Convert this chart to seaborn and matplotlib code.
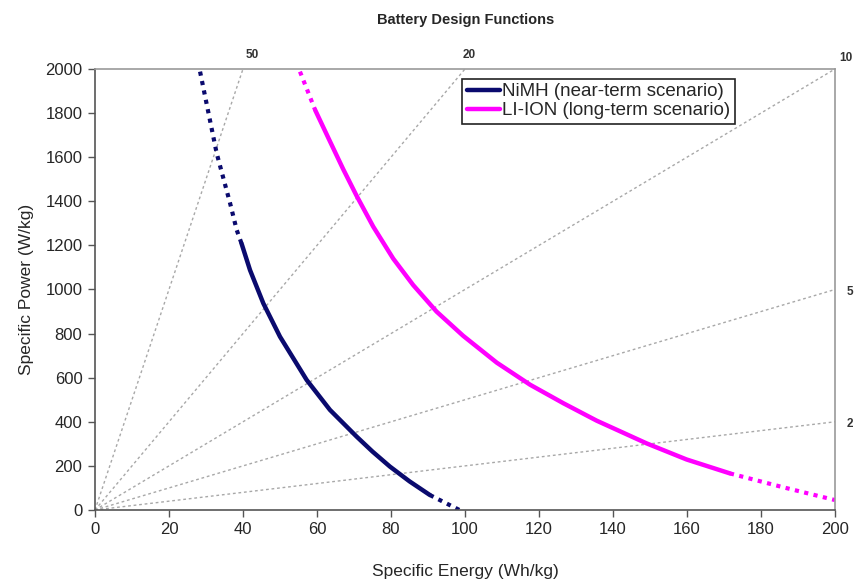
import matplotlib
matplotlib.use("Agg")
import matplotlib.pyplot as plt
import numpy as np
import pandas as pd
import seaborn as sns

# NiMH curve (near-term), solid part and dotted extensions
nimh_E = [39.6, 41.9, 45.5, 50.0, 57.2, 63.5, 70.7, 75.0, 79.7, 85.0, 90.5]
nimh_P = [1209, 1088, 937, 786, 590, 454, 333, 265, 197, 130, 68]
nimh_top_E = [28.4, 32.9, 36.5, 38.3, 39.6]
nimh_top_P = [1988, 1617, 1392, 1270, 1209]
nimh_bot_E = [90.5, 98.5]
nimh_bot_P = [68, 0]

# LI-ION curve (long-term)
li_E = [59.5, 63.5, 67.1, 70.7, 75.2, 80.6, 86.0, 92.3, 99.5, 108.6, 117.6,
        126.6, 135.6, 149.1, 159.9, 171.6]
li_P = [1814, 1672, 1545, 1425, 1285, 1140, 1020, 900, 790, 668, 568,
        484, 405, 302, 229, 166]
li_top_E = [55.4, 59.5]
li_top_P = [1988, 1814]
li_bot_E = [171.6, 186.0, 200.0]
li_bot_P = [166, 103, 45]

# power-to-energy ratio guide lines
ratios = [50, 20, 10, 5, 2]
ratio_label_pos = [(42.4, 2062), (101.0, 2062), (203.0, 2050), (204.0, 990), (204.0, 390)]

sns.set_theme(style="white")
plt.rcParams['font.family'] = ['Liberation Sans', 'DejaVu Sans']

fig = plt.figure(figsize=(8.58, 5.86), dpi=100)
ax = fig.add_axes([0.1107, 0.1297, 0.8625, 0.7526])

# guide rays P = r * E
for r in ratios:
    e_end = min(200, 2000 / r)
    ray = pd.DataFrame({"E": [0, e_end], "P": [0, r * e_end]})
    sns.lineplot(data=ray, x="E", y="P", ax=ax, color="#a8a8a8", lw=1.0,
                 linestyle=(0, (2, 2)), estimator=None, sort=False)
for r, (tx, ty) in zip(ratios, ratio_label_pos):
    ax.text(tx, ty, str(r), fontsize=8.5, fontweight="bold", color="#333333",
            ha="center", va="center", clip_on=False)

navy = "#0a0a6e"
magenta = "#ff00ff"

sns.lineplot(x=nimh_E, y=nimh_P, ax=ax, color=navy, lw=3.2, estimator=None,
             sort=False, label="NiMH (near-term scenario)")
sns.lineplot(x=li_E, y=li_P, ax=ax, color=magenta, lw=3.2, estimator=None,
             sort=False, label="LI-ION (long-term scenario)")
for xs, ys, c in [(nimh_top_E, nimh_top_P, navy), (nimh_bot_E, nimh_bot_P, navy),
                  (li_top_E, li_top_P, magenta), (li_bot_E, li_bot_P, magenta)]:
    sns.lineplot(x=xs, y=ys, ax=ax, color=c, lw=3.0, linestyle=(0, (1, 1.3)),
                 estimator=None, sort=False, legend=False)

ax.set_xlim(0, 200)
ax.set_ylim(0, 2000)
ax.set_xticks(np.arange(0, 201, 20))
ax.set_yticks(np.arange(0, 2001, 200))
ax.tick_params(axis="both", which="major", labelsize=12, direction="out",
               length=5, width=1, color="#555555", bottom=True, left=True, pad=4)
for s in ["left", "bottom"]:
    ax.spines[s].set_color("#555555")
    ax.spines[s].set_linewidth(1.2)
for s in ["right", "top"]:
    ax.spines[s].set_color("#999999")
    ax.spines[s].set_linewidth(1.2)

ax.set_xlabel("Specific Energy (Wh/kg)", fontsize=12.5, labelpad=19)
ax.set_ylabel("Specific Power (W/kg)", fontsize=12.5, labelpad=8)
fig.text(0.543, 0.966, "Battery Design Functions", fontsize=10.5, fontweight="bold",
         ha="center", va="center")

leg = ax.legend(loc="upper left", bbox_to_anchor=(0.496, 0.978), fontsize=13.5,
                frameon=True, fancybox=False, edgecolor="#222222", framealpha=1,
                handlelength=1.8, handletextpad=0.1, borderpad=0.25,
                labelspacing=0.1, borderaxespad=0)
leg.get_frame().set_linewidth(1.2)

fig.savefig("out.png", dpi=100)
